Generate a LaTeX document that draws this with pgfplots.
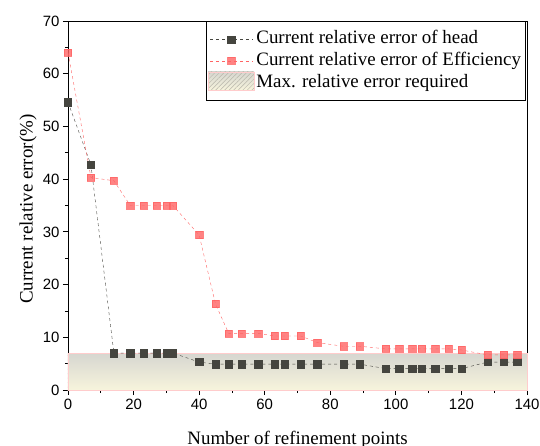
\documentclass[border=0pt]{standalone}
\usepackage{pgfplots}
\pgfplotsset{compat=1.18}
\usepackage{fontspec}
\setmainfont{Liberation Serif}
\newfontfamily\arialfont{Liberation Sans}
\usetikzlibrary{patterns.meta}
\definecolor{headc}{HTML}{45453F}
\definecolor{effc}{HTML}{FF6464}
\definecolor{areatop}{HTML}{D6D6D0}
\definecolor{areabot}{HTML}{F7F4DC}
\definecolor{hatchc}{HTML}{B8B6AA}
\begin{document}
\begin{tikzpicture}
\begin{axis}[
 name=ax,
 scale only axis, width=459bp, height=369bp,
 xmin=0, xmax=140, ymin=0, ymax=70,
 xtick={0,20,...,140}, ytick={0,10,...,70},
 minor x tick num=1, minor y tick num=1,
 tick align=outside, xtick pos=left, ytick pos=left,
 major tick length=5bp, minor tick length=3bp,
 tick style={black, line width=0.8pt},
 axis line style={black, line width=0.9pt},
 ticklabel style={font=\arialfont\fontsize{15}{17}\selectfont},
 xticklabel style={yshift=-1bp},
 /pgf/number format/assume math mode=true,
 xlabel={Number of refinement points},
 ylabel={Current relative error(\%)},
 label style={font=\fontsize{19}{21}\selectfont},
 xlabel style={at={(axis description cs:0.5,0)}, anchor=base, yshift=-54bp},
 ylabel style={at={(axis description cs:-0.0871,0.49)}, anchor=center},
 legend style={at={(0.996,0.999)}, anchor=north east, draw=black, line width=0.5pt,
   font=\fontsize{19}{21}\selectfont, inner xsep=2bp, inner ysep=7bp, row sep=0pt,
   nodes={text height=13bp, text depth=4bp, inner ysep=2.25bp}},
 legend cell align=left,
 legend image code/.code={%
   \draw[mark repeat=2,mark phase=2] plot coordinates {(0bp,0bp)(21bp,0bp)(42bp,0bp)};},
 clip=false,
]
\addplot[forget plot, draw=red!20, line width=0.5pt, top color=areatop, bottom color=areabot,
  postaction={pattern={Lines[angle=45, distance=3.2bp, line width=0.5bp]}, pattern color=hatchc}]
  coordinates {(0,0)(0,7)(140,7)(140,0)} -- cycle;

\addplot[headc, dashed, line width=0.4pt, mark=square*, mark size=3.6bp,
  mark options={solid, fill=headc, draw=headc}]
coordinates {
(0,54.6)(7,42.7)(14,7.0)(19,7.0)(23,7.0)(27,7.0)(30,7.0)(32,7.0)
(40,5.3)(45,4.9)(49,4.9)(53,4.9)(58,4.9)(63,4.9)(66,4.9)(71,4.9)(76,4.9)(84,4.9)(89,4.9)
(97,4.05)(101,4.05)(105,4.05)(108,4.05)(112,4.05)(116,4.05)(120,4.05)
(128,5.3)(133,5.3)(137,5.3)
};
\addlegendentry{Current relative error of head}

\addplot[effc, dashed, line width=0.4pt, mark=square*, mark size=3.6bp,
  mark options={solid, fill=effc, draw=effc, fill opacity=0.8, draw opacity=0.8}]
coordinates {
(0,64.0)(7,40.3)(14,39.7)(19,35.0)(23,35.0)(27,35.0)(30,35.0)(32,35.0)
(40,29.4)(45,16.3)(49,10.75)(53,10.75)(58,10.75)(63,10.25)(66,10.25)(71,10.25)(76,9.0)(84,8.3)(89,8.3)
(97,7.8)(101,7.8)(105,7.8)(108,7.8)(112,7.8)(116,7.8)(120,7.6)
(128,6.65)(133,6.65)(137,6.65)
};
\addlegendentry{Current relative error of Efficiency}

\addlegendimage{legend image code/.code={%
   \draw[draw=red!20, top color=areatop, bottom color=areabot,
     postaction={pattern={Lines[angle=45, distance=3.2bp, line width=0.5bp]}, pattern color=hatchc}]
     (-2bp,-7bp) rectangle (44bp,11bp);}}
\addlegendentry{Max. relative error required}
\end{axis}
\pgfresetboundingbox
\path (ax.south west) ++(-68bp,-56bp) rectangle ([shift={(13bp,21bp)}]ax.north east);
\end{tikzpicture}
\end{document}
